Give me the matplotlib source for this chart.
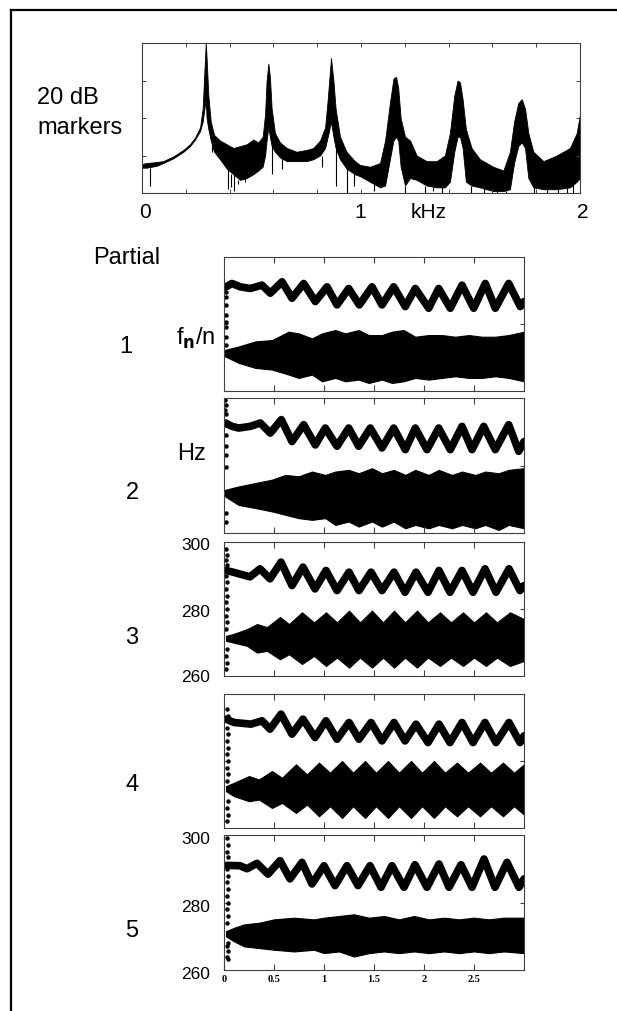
import matplotlib
matplotlib.use("Agg")
import matplotlib.pyplot as plt
from matplotlib.lines import Line2D

# ---------------- data ----------------
# Top spectrum (kHz, upper envelope dB, lower envelope dB)
spec_khz = [0.000, 0.021, 0.067, 0.097, 0.143, 0.189, 0.219, 0.242, 0.265, 0.277, 0.285, 0.291,
            0.295, 0.303, 0.314, 0.329, 0.356, 0.387, 0.417, 0.448, 0.478, 0.508, 0.531, 0.551,
            0.562, 0.569, 0.577, 0.584, 0.592, 0.607, 0.630, 0.661, 0.706, 0.752, 0.782, 0.813,
            0.836, 0.848, 0.863, 0.874, 0.884, 0.904, 0.934, 0.972, 0.995, 1.041, 1.087, 1.110,
            1.132, 1.148, 1.160, 1.170, 1.181, 1.201, 1.224, 1.254, 1.300, 1.345, 1.383, 1.406,
            1.426, 1.441, 1.452, 1.464, 1.479, 1.505, 1.543, 1.604, 1.650, 1.680, 1.699, 1.718,
            1.734, 1.749, 1.764, 1.787, 1.833, 1.893, 1.954, 1.985, 2.000]
spec_hi = [15.5, 16.0, 16.5, 17.0, 19.5, 23.0, 26.0, 29.5, 35.0, 45.0, 65.0, 80.0,
           72.0, 52.0, 38.0, 31.0, 28.0, 26.0, 24.0, 25.0, 26.0, 28.5, 27.0, 30.0,
           42.0, 60.0, 69.0, 62.0, 45.0, 32.0, 27.0, 24.0, 22.0, 23.0, 24.0, 28.0,
           35.0, 50.0, 72.0, 60.0, 45.0, 30.0, 22.0, 17.0, 15.0, 14.0, 16.0, 28.0,
           48.0, 61.0, 62.0, 56.0, 40.0, 30.0, 28.0, 20.0, 17.0, 17.0, 20.0, 32.0,
           52.0, 60.0, 59.0, 50.0, 34.0, 24.0, 18.0, 14.0, 12.0, 22.0, 38.0, 48.0,
           50.0, 45.0, 32.0, 22.0, 17.0, 20.0, 24.0, 32.0, 42.0]
spec_lo = [13.5, 13.5, 14.5, 16.0, 18.5, 22.0, 25.0, 28.5, 33.0, 38.0, 45.0, 50.0,
           40.0, 34.0, 28.0, 22.0, 18.0, 13.0, 10.0, 7.0, 8.0, 10.0, 12.0, 14.0,
           20.0, 28.0, 35.0, 30.0, 25.0, 22.0, 19.0, 17.0, 17.0, 17.0, 18.0, 20.0,
           24.0, 30.0, 38.0, 30.0, 24.0, 18.0, 13.0, 10.0, 9.0, 6.0, 3.0, 4.0,
           18.0, 28.0, 30.0, 28.0, 14.0, 4.0, 8.0, 7.0, 4.0, 3.0, 3.0, 6.0,
           22.0, 30.0, 30.0, 24.0, 6.0, 4.0, 3.0, 1.0, 1.0, 2.0, 16.0, 25.0,
           27.0, 24.0, 8.0, 3.0, 2.0, 2.0, 3.0, 6.0, 8.0]
spike_khz = [0.036, 0.318, 0.392, 0.405, 0.420, 0.440, 0.470, 0.594, 0.640, 0.820, 0.885, 0.934,
             0.970, 1.060, 1.200, 1.290, 1.330, 1.370, 1.500, 1.560, 1.620, 1.660, 1.790, 1.850,
             1.900, 1.940, 1.970]
spike_db = [4, 22, 2, 3, 1, 5, 6, 10, 13, 14, 4, 0,
            4, 1, 0, 0, 1, 0, 0, 0, 0, 0, 0, 0,
            0, 0, 0]

# Partial panels: upper curve (time s, Hz)
p1_t = [0.02, 0.08, 0.163, 0.263, 0.38, 0.463, 0.58, 0.68, 0.797, 0.913, 1.03, 1.13, 1.247, 1.353,
        1.48, 1.58, 1.697, 1.813, 1.913, 2.047, 2.147, 2.263, 2.38, 2.497, 2.613, 2.713, 2.847,
        2.963, 3.0]
p1_f = [291.1, 292.1, 291.1, 290.6, 291.6, 289.2, 292.6, 287.7, 292.1, 286.7, 291.1, 285.7, 290.6,
        285.7, 291.1, 285.7, 291.1, 285.2, 290.6, 284.7, 290.6, 284.7, 291.6, 284.7, 292.1, 284.7,
        292.1, 285.2, 286.7]
p2_t = [0.013, 0.08, 0.147, 0.263, 0.363, 0.463, 0.573, 0.68, 0.797, 0.913, 1.013, 1.13, 1.247,
        1.347, 1.463, 1.58, 1.697, 1.813, 1.913, 2.03, 2.147, 2.263, 2.38, 2.48, 2.597, 2.713,
        2.847, 2.947, 3.0]
p2_f = [292.6, 291.6, 291.1, 291.6, 292.6, 289.6, 293.6, 287.1, 292.1, 286.1, 291.1, 285.7, 291.1,
        285.7, 291.1, 285.2, 291.1, 284.7, 291.1, 284.7, 291.1, 284.7, 291.6, 284.7, 291.6, 284.7,
        292.1, 284.2, 287.1]
p3_t = [0.02, 0.09, 0.26, 0.36, 0.46, 0.57, 0.68, 0.79, 0.91, 1.02, 1.13, 1.25, 1.35, 1.47, 1.58,
        1.70, 1.81, 1.92, 2.04, 2.15, 2.26, 2.38, 2.49, 2.61, 2.72, 2.85, 2.96, 3.0]
p3_f = [291.5, 291.0, 289.6, 292.0, 289.0, 294.0, 287.0, 292.5, 286.0, 291.5, 285.5, 291.0, 285.5,
        291.0, 285.5, 291.0, 285.0, 291.0, 285.0, 291.5, 285.0, 291.5, 285.0, 292.0, 285.0, 292.0,
        285.5, 287.0]
p4_t = [0.02, 0.10, 0.27, 0.38, 0.46, 0.57, 0.68, 0.79, 0.91, 1.02, 1.13, 1.25, 1.35, 1.47, 1.58,
        1.70, 1.81, 1.92, 2.04, 2.15, 2.26, 2.38, 2.49, 2.61, 2.72, 2.85, 2.96, 3.0]
p4_f = [292.5, 291.5, 291.0, 292.0, 289.5, 294.0, 288.0, 292.5, 287.0, 292.0, 286.5, 291.5, 286.5,
        291.5, 286.0, 291.5, 286.0, 291.0, 285.5, 291.0, 285.5, 291.5, 285.5, 291.5, 285.5, 291.5,
        285.5, 287.5]
p5_t = [0.03, 0.16, 0.23, 0.33, 0.44, 0.56, 0.66, 0.78, 0.88, 1.00, 1.11, 1.23, 1.34, 1.46, 1.57,
        1.68, 1.80, 1.91, 2.03, 2.15, 2.25, 2.37, 2.48, 2.60, 2.71, 2.83, 2.95, 3.0]
p5_f = [291.0, 290.9, 290.0, 291.6, 288.4, 292.4, 287.0, 291.9, 285.5, 290.9, 285.0, 290.9, 285.0,
        290.9, 284.5, 290.9, 284.5, 291.2, 284.5, 291.4, 284.5, 291.2, 284.5, 292.9, 284.5, 291.9,
        284.5, 287.0]

# Partial panels: lower band envelope (time s, top Hz, bottom Hz)
b1_t = [0.0, 0.013, 0.147, 0.313, 0.48, 0.58, 0.647, 0.747, 0.88, 0.98, 1.113, 1.213, 1.347, 1.447,
        1.58, 1.68, 1.797, 1.913, 2.047, 2.18, 2.313, 2.447, 2.58, 2.713, 2.847, 3.0]
b1_top = [271.3, 272.3, 273.3, 274.8, 275.2, 276.7, 277.7, 277.2, 275.7, 277.2, 278.2, 277.2, 278.2,
          276.7, 276.7, 277.7, 278.2, 276.2, 276.7, 276.7, 276.2, 276.7, 276.2, 276.2, 276.7, 277.7]
b1_bot = [270.5, 270.3, 268.4, 266.9, 266.4, 265.5, 264.9, 263.9, 264.9, 262.9, 263.9, 262.9, 263.4,
          262.4, 263.4, 262.4, 262.9, 263.9, 263.4, 263.9, 264.4, 263.9, 263.9, 264.4, 263.9, 262.9]
b2_t = [0.0, 0.013, 0.147, 0.313, 0.48, 0.613, 0.747, 0.88, 1.013, 1.113, 1.247, 1.347, 1.48, 1.58,
        1.697, 1.813, 1.913, 2.047, 2.147, 2.28, 2.38, 2.513, 2.613, 2.747, 2.847, 3.0]
b2_top = [272.3, 272.8, 273.8, 274.8, 275.8, 277.2, 276.8, 278.2, 277.2, 278.2, 278.7, 277.7, 279.2,
          277.7, 278.7, 277.2, 278.7, 277.2, 278.7, 277.2, 278.2, 277.2, 278.2, 277.7, 278.7, 279.2]
b2_bot = [271.3, 270.8, 268.3, 267.4, 266.4, 265.4, 264.4, 263.9, 264.4, 262.4, 263.4, 261.9, 263.4,
          261.9, 263.4, 261.4, 262.4, 261.4, 262.4, 261.4, 262.4, 261.4, 262.4, 260.9, 262.4, 261.4]
b3_t = [0.02, 0.09, 0.23, 0.33, 0.43, 0.56, 0.65, 0.78, 0.90, 1.02, 1.13, 1.25, 1.36, 1.48, 1.59,
        1.70, 1.81, 1.93, 2.04, 2.16, 2.27, 2.39, 2.50, 2.62, 2.73, 2.86, 3.0]
b3_top = [272.0, 272.5, 274.0, 275.5, 274.6, 277.6, 275.5, 279.0, 276.0, 279.0, 276.0, 279.5, 276.0,
          279.5, 276.0, 279.5, 276.0, 279.5, 276.0, 279.0, 276.0, 279.0, 276.0, 279.0, 276.0, 279.0,
          277.0]
b3_bot = [270.5, 270.0, 269.0, 267.0, 267.5, 265.0, 266.5, 263.6, 266.0, 263.0, 265.5, 262.5, 265.5,
          262.5, 265.5, 262.5, 265.5, 262.5, 265.5, 263.0, 265.5, 263.0, 265.5, 263.0, 265.5, 263.0,
          264.5]
b4_t = [0.02, 0.10, 0.25, 0.35, 0.48, 0.58, 0.72, 0.83, 0.95, 1.06, 1.18, 1.29, 1.41, 1.52, 1.64,
        1.75, 1.87, 1.98, 2.10, 2.21, 2.33, 2.44, 2.56, 2.67, 2.79, 2.90, 3.0]
b4_top = [272.5, 273.5, 275.5, 274.5, 277.0, 275.0, 279.0, 276.0, 279.5, 276.5, 280.0, 276.5, 280.0,
          276.5, 280.0, 276.5, 280.0, 276.5, 280.0, 276.5, 279.5, 276.5, 279.5, 276.5, 279.5, 276.5,
          279.0]
b4_bot = [271.0, 269.5, 268.0, 268.5, 266.0, 267.5, 264.5, 267.0, 263.5, 266.5, 263.0, 266.5, 263.0,
          266.5, 263.0, 266.5, 263.0, 266.5, 263.0, 266.5, 263.5, 266.5, 263.5, 266.5, 263.5, 266.5,
          264.0]
b5_t = [0.02, 0.1, 0.2, 0.35, 0.5, 0.7, 0.9, 1.0, 1.15, 1.3, 1.45, 1.6, 1.75, 1.9, 2.05, 2.2, 2.35,
        2.5, 2.65, 2.8, 3.0]
b5_top = [271.5, 272.5, 273.5, 274.0, 275.0, 275.5, 275.0, 275.5, 276.0, 276.5, 275.5, 276.0, 275.0,
          276.0, 275.0, 275.5, 275.0, 275.5, 275.0, 275.5, 275.5]
b5_bot = [270.0, 268.5, 267.0, 266.5, 266.0, 265.5, 266.0, 265.0, 265.5, 264.0, 265.0, 265.5, 265.0,
          265.5, 265.0, 265.5, 265.0, 265.5, 265.0, 265.5, 265.0]

# Scattered onset points (time s, Hz)
d1_t = [0.015, 0.02, 0.015, 0.02, 0.015, 0.02, 0.015, 0.02, 0.015]
d1_f = [291.1, 289.7, 288.2, 285.7, 282.7, 280.7, 279.2, 276.2, 273.8]
d2_t = [0.01, 0.015, 0.01, 0.02, 0.015, 0.02, 0.015, 0.02, 0.015, 0.02, 0.015]
d2_f = [299.3, 298.0, 296.5, 295.3, 292.0, 285.7, 283.2, 279.7, 265.9, 263.4, 289.0]
d3_t = [0.02, 0.03, 0.02, 0.03, 0.02, 0.03, 0.02, 0.03, 0.02, 0.03, 0.02, 0.03, 0.02, 0.03, 0.02,
        0.03, 0.02]
d3_f = [298.0, 296.0, 294.5, 293.0, 290.0, 288.0, 286.0, 284.0, 282.0, 280.0, 278.0, 276.0, 274.0,
        268.0, 266.0, 264.0, 262.0]
d4_t = [0.03, 0.04, 0.03, 0.04, 0.03, 0.04, 0.03, 0.04, 0.03, 0.04, 0.03, 0.04, 0.03, 0.04, 0.03]
d4_f = [295.5, 293.5, 290.0, 288.0, 286.0, 284.0, 282.0, 280.0, 278.0, 276.0, 274.0, 268.0, 266.0,
        264.0, 262.0]
d5_t = [0.03, 0.04, 0.03, 0.04, 0.03, 0.04, 0.03, 0.04, 0.03, 0.04, 0.03, 0.04, 0.03, 0.04, 0.03,
        0.04, 0.03, 0.04]
d5_f = [299.0, 297.0, 295.0, 293.5, 290.0, 288.0, 286.0, 284.0, 282.0, 280.0, 278.0, 276.0, 274.0,
        268.0, 267.0, 265.5, 264.0, 263.3]

time_ticks = [0, 0.5, 1, 1.5, 2, 2.5]
time_labels = ["0", "0.5", "1", "1.5", "2", "2.5"]
partial_labels = ["1", "2", "3", "4", "5"]

# ---------------- layout ----------------
W, H = 617, 1012
fig = plt.figure(figsize=(W / 100, H / 100), dpi=100)
fig.patch.set_facecolor("white")


def fx(px):
    return px / W


def fy(py):
    return 1 - py / H


def rect(l, t, r, b):
    return [fx(l), fy(b), (r - l) / W, (b - t) / H]


SANS = ["Liberation Sans", "DejaVu Sans"]
SPINE = "#404040"

# Border
fig.add_artist(Line2D([fx(11), fx(11)], [fy(11), 0], color="k", lw=1.6))
fig.add_artist(Line2D([fx(11), 1], [fy(11), fy(11)], color="k", lw=1.6))

# Top spectrum
ax0 = fig.add_axes(rect(142, 44, 580, 194))
ax0.fill_between(spec_khz, spec_lo, spec_hi, color="k", lw=0.6, edgecolor="k")
ax0.vlines(spike_khz, spike_db,
           [max(l, 0) for l in [spec_lo[min(range(len(spec_khz)), key=lambda i: abs(spec_khz[i] - s))] for s in spike_khz]],
           color="k", lw=0.8)
ax0.set_xlim(0, 2)
ax0.set_ylim(0, 80)
ax0.set_xticks([0.2 * i for i in range(1, 10)])
ax0.set_yticks([20, 40, 60])
ax0.tick_params(direction="in", length=3, width=0.7, top=True, right=True,
                labelbottom=False, labelleft=False, color=SPINE)
for s in ax0.spines.values():
    s.set_linewidth(0.8)
    s.set_color(SPINE)

fig.text(fx(37), fy(98), "20 dB", fontsize=17, family=SANS, ha="left", va="center")
fig.text(fx(37), fy(128), "markers", fontsize=17, family=SANS, ha="left", va="center")
fig.text(fx(145), fy(212), "0", fontsize=15, family=SANS, ha="center", va="center")
fig.text(fx(360), fy(212), "1", fontsize=15, family=SANS, ha="center", va="center")
fig.text(fx(429), fy(212), "kHz", fontsize=15, family=SANS, ha="center", va="center")
fig.text(fx(583), fy(212), "2", fontsize=15, family=SANS, ha="center", va="center")

# Partial panels
panels = [
    ((258, 392), p1_t, p1_f, b1_t, b1_top, b1_bot, d1_t, d1_f),
    ((399, 534), p2_t, p2_f, b2_t, b2_top, b2_bot, d2_t, d2_f),
    ((543, 677), p3_t, p3_f, b3_t, b3_top, b3_bot, d3_t, d3_f),
    ((695, 829), p4_t, p4_f, b4_t, b4_top, b4_bot, d4_t, d4_f),
    ((836, 971), p5_t, p5_f, b5_t, b5_top, b5_bot, d5_t, d5_f),
]
label_y = [347, 493, 638, 785, 931]
label_x = [126, 132, 132, 132, 132]

for i, ((top, bot), ut, uf, bt, btop, bbot, dt, df) in enumerate(panels):
    ax = fig.add_axes(rect(224, top, 524, bot))
    ax.fill_between(bt, bbot, btop, color="k", lw=0.8, edgecolor="k")
    ax.plot(ut, uf, color="k", lw=5.5, solid_joinstyle="round", solid_capstyle="round")
    ax.plot(dt, df, "o", color="k", ms=3.2, mew=0)
    ax.set_xlim(0, 3.0)
    ax.set_ylim(260, 300)
    ax.set_xticks(time_ticks[1:])
    ax.set_yticks([280])
    ax.tick_params(direction="in", length=4, width=0.8, top=True, right=True,
                   labelleft=False, labelbottom=False, color=SPINE)
    ax.tick_params(axis="y", length=3)
    for s in ax.spines.values():
        s.set_linewidth(0.8)
        s.set_color(SPINE)
    if i == 4:
        ax.set_xticks(time_ticks)
        ax.set_xticklabels(time_labels, family=["Liberation Serif", "DejaVu Serif"],
                           fontsize=7.5, fontweight="bold")
        ax.tick_params(labelbottom=True, pad=3)
    fig.text(fx(label_x[i]), fy(label_y[i]), partial_labels[i], fontsize=17, family=SANS,
             ha="center", va="center")

# Axis annotation texts
fig.text(fx(93), fy(258), "Partial", fontsize=17, family=SANS, ha="left", va="center")
fig.text(fx(176), fy(338), r"f$_\mathbf{n}$/n", fontsize=17, family=SANS, ha="left", va="center")
fig.text(fx(177), fy(454), "Hz", fontsize=17, family=SANS, ha="left", va="center")
for yy, lab in [(546, "300"), (613, "280"), (678, "260"), (840, "300"), (908, "280"), (975, "260")]:
    fig.text(fx(210), fy(yy), lab, fontsize=12.5, family=SANS, ha="right", va="center")

fig.savefig("out.png", dpi=100, facecolor="white")
